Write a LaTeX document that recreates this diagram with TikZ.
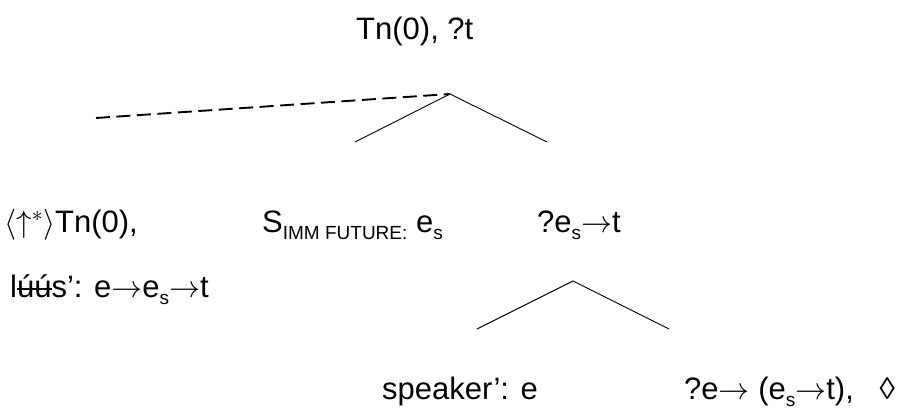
\RequirePackage{fix-cm}
\documentclass[tikz,border=0pt]{standalone}
\usepackage{fontspec}
\setmainfont{Liberation Sans}
\newcommand\strk[1]{{\setbox0\hbox{#1}\rlap{\rule[0.27em]{\wd0}{0.06em}}\box0}}
\newcommand\sbs[1]{\raisebox{-0.22em}{\fontsize{19}{20}\selectfont #1}}
\newcommand\arr{$\rightarrow$}
\begin{document}
\begin{tikzpicture}[x=1pt,y=1pt,
  lbl/.style={inner sep=0pt, anchor=base west, font=\fontsize{31}{36}\selectfont},
  branch/.style={line width=0.9pt},
  dashlink/.style={line width=1.9pt, dash pattern=on 14pt off 6.5pt}]
\useasboundingbox (0,0) rectangle (903,410);
% texts
\node[lbl] (root) at (356,370) {Tn(0), ?t};
\node[lbl] (link) at (4,177) {$\langle\uparrow^{*}\rangle$Tn(0),};
\node[lbl] (situ) at (262,177) {S\sbs{IMM FUTURE:} e\sbs{s}};
\node[lbl] (pred) at (537,177) {?e\sbs{s}\arr t};
\node[lbl] (verb) at (10,112) {l\strk{úú}s’: e\arr e\sbs{s}\arr t};
\node[lbl] (subj) at (382,10) {speaker’: e};
\node[lbl] (fun) at (684,10) {?e\arr{} (e\sbs{s}\arr t),\ \ \ ◊};
% tree geometry
\coordinate (apex) at (450,316);
\coordinate (dashend) at (96,292);
\coordinate (l1) at (355,268);
\coordinate (r1) at (547,268);
\coordinate (apex2) at (573,129);
\coordinate (l2) at (477,81);
\coordinate (r2) at (669,81);
\draw[dashlink] (dashend) -- (apex);
\draw[branch] (l1) -- (apex) -- (r1);
\draw[branch] (l2) -- (apex2) -- (r2);
\end{tikzpicture}
\end{document}
